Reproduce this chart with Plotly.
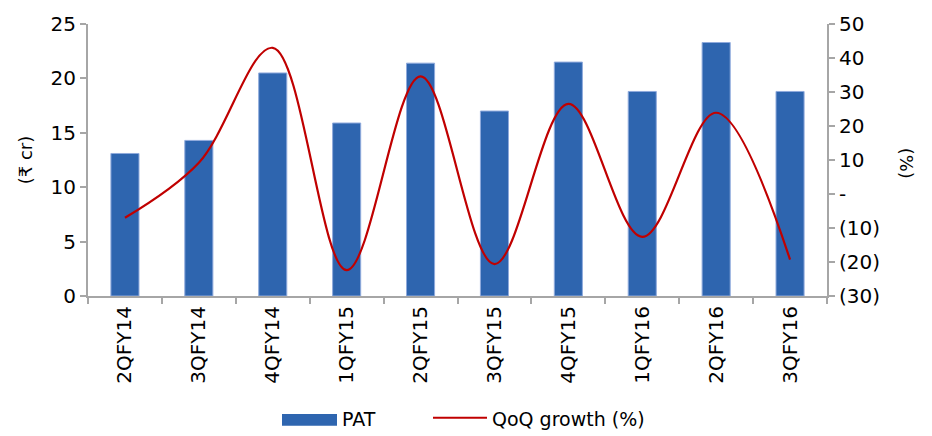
import plotly.graph_objects as go

quarters = ["2QFY14", "3QFY14", "4QFY14", "1QFY15", "2QFY15",
            "3QFY15", "4QFY15", "1QFY16", "2QFY16", "3QFY16"]
pat = [13.1, 14.3, 20.5, 15.9, 21.4, 17.0, 21.5, 18.8, 23.3, 18.8]
qoq_growth = [-7.0, 9.2, 43.0, -22.4, 34.6, -20.6, 26.5, -12.6, 23.9, -19.3]

pct_ticks = [-30, -20, -10, 0, 10, 20, 30, 40, 50]
pct_labels = ["(30)", "(20)", "(10)", "-", "10", "20", "30", "40", "50"]

BAR = "#2E65AF"
LINE = "#C00000"
AXIS = "#A6A6A6"
FONT = "DejaVu Sans, Noto Sans"

fig = go.Figure()
fig.add_trace(go.Bar(
    x=quarters, y=pat, name="PAT",
    marker=dict(color=BAR, line=dict(color="#8FAADC", width=1)),
    showlegend=False,
))
fig.add_trace(go.Scatter(
    x=quarters, y=qoq_growth, name="QoQ growth (%)", yaxis="y2",
    mode="lines", line=dict(color=LINE, width=2.2, shape="spline", smoothing=1),
    showlegend=False,
))

fig.update_layout(
    width=932, height=436,
    margin=dict(l=88, r=105, t=17, b=140),
    paper_bgcolor="white", plot_bgcolor="white",
    font=dict(family=FONT, size=19, color="#000000"),
    bargap=0.62,
    xaxis=dict(
        showline=True, linecolor=AXIS, linewidth=2,
        ticks="outside", tickson="boundaries", ticklen=6, tickcolor=AXIS, tickwidth=2,
        tickangle=-90, tickfont=dict(size=20),
        showgrid=False,
    ),
    yaxis=dict(
        range=[0, 25], dtick=5,
        showline=True, linecolor=AXIS, linewidth=2,
        ticks="outside", ticklen=6, tickcolor=AXIS, tickwidth=2,
        showgrid=False, zeroline=False,
        tickfont=dict(size=20),
        title=dict(text="(₹ cr)", font=dict(size=18), standoff=13),
    ),
    yaxis2=dict(
        overlaying="y", side="right", range=[-30, 50],
        tickvals=pct_ticks, ticktext=pct_labels,
        showline=True, linecolor=AXIS, linewidth=2,
        ticks="outside", ticklen=6, tickcolor=AXIS, tickwidth=2,
        showgrid=False, zeroline=False,
        tickfont=dict(size=20),
    ),
    showlegend=False,
)

# right-axis title, reading top to bottom
fig.add_annotation(
    text="(%)", xref="paper", yref="paper", x=(906 - 88) / 739, y=0.49,
    xanchor="center", showarrow=False, textangle=90, font=dict(size=18),
)

# legend drawn below the category labels
fig.add_shape(type="rect", xref="paper", yref="paper",
              x0=(282 - 88) / 739, x1=(337 - 88) / 739,
              y0=-(417 - 296) / 279, y1=-(429 - 296) / 279,
              fillcolor=BAR, line=dict(width=0))
fig.add_annotation(text="PAT", xref="paper", yref="paper",
                   x=(340 - 88) / 739, y=-(422 - 296) / 279,
                   xanchor="left", yanchor="middle", showarrow=False,
                   font=dict(size=19))
fig.add_shape(type="line", xref="paper", yref="paper",
              x0=(433 - 88) / 739, x1=(487 - 88) / 739,
              y0=-(421 - 296) / 279, y1=-(421 - 296) / 279,
              line=dict(color=LINE, width=2))
fig.add_annotation(text="QoQ growth (%)", xref="paper", yref="paper",
                   x=(490 - 88) / 739, y=-(422 - 296) / 279,
                   xanchor="left", yanchor="middle", showarrow=False,
                   font=dict(size=19))

fig.write_html("out.html")
